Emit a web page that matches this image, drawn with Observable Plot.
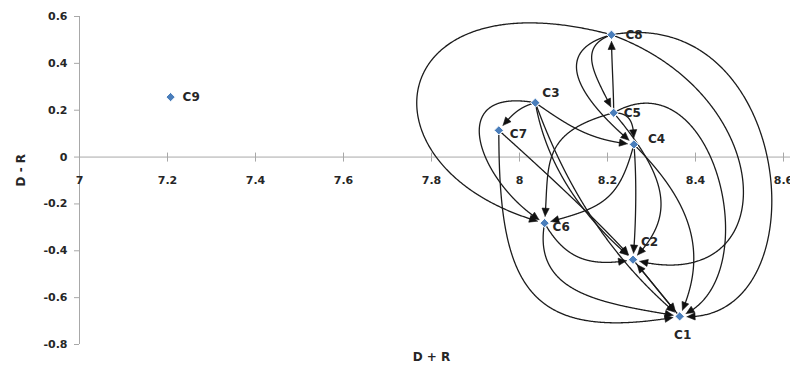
<!DOCTYPE html>
<html><head><meta charset="utf-8">
<script src="https://cdn.jsdelivr.net/npm/d3@7"></script>
<script src="https://cdn.jsdelivr.net/npm/@observablehq/plot@0.6"></script>
<style>body{margin:0;background:#fff}#chart{width:790px;height:370px}</style>
</head><body><div id="chart"></div>
<script>
// ---- data ----
const nodes   = ["C1", "C2", "C3", "C4", "C5", "C6", "C7", "C8", "C9"];
const dPlusR  = [8.364, 8.258, 8.036, 8.260, 8.214, 8.057, 7.953, 8.209, 7.207];
const dMinusR = [-0.680, -0.438, 0.232, 0.054, 0.189, -0.282, 0.114, 0.522, 0.256];
const xTicks = [7, 7.2, 7.4, 7.6, 7.8, 8, 8.2, 8.4, 8.6];
const yTicks = [0.6, 0.4, 0.2, 0, -0.2, -0.4, -0.6, -0.8];
const xTitle = "D + R";
const yTitle = "D - R";
// influence relations (from -> to)
const edgeFrom = ["C5","C8","C8","C3","C3","C8","C5","C4","C3","C5","C4","C6","C6","C7","C7","C3","C3","C2","C1","C4","C5","C5","C8","C8"];
const edgeTo   = ["C8","C5","C4","C7","C6","C6","C6","C6","C4","C4","C2","C2","C1","C1","C2","C2","C1","C1","C2","C1","C1","C2","C2","C1"];

// ---- drawing style of each curve (departure / arrival heading in screen degrees, handle length relative to chord) ----
const edgeDepart = [-90,160,165,165,190,195,165,105, 35,  0, 85, 60,100, 90, 42, 80, 70, 50,230, 45,-30, 50, 20,-10];
const edgeArrive = [-90, 65, 40,130, 30, 15, 95,165,  5, 90, 95,-10, 10,-10, 48, 40, 40, 50,230,115,160,135,195,185];
const edgeOut    = [0.3,0.5,0.6,0.4,0.8,1.2,0.6,0.5,0.4,0.5,0.3,0.45,0.45,0.6,0.3,0.35,0.35,0.3,0.3,0.45,0.55,0.6,0.8,0.65];
const edgeIn     = [0.3,0.5,0.6,0.4,0.6,1.0,0.45,0.5,0.4,0.5,0.3,0.45,0.45,0.6,0.3,0.35,0.35,0.3,0.3,0.4,0.45,0.4,0.7,0.5];
const labelAnchor = ["middle","start","start","start","start","start","start","start","start"];
const labelDx = [3, 8, 7, 14, 10, 8, 11, 14, 12];
const labelDy = [19, -18, -10, -5, 0, 4, 4, 0, 0];

const W = 790, H = 370;
const M = {top: 16, right: 7, bottom: 26, left: 79};
const xDomain = [7, 8.6], yDomain = [-0.8, 0.6];
const base = {
  width: W, height: H,
  marginTop: M.top, marginRight: M.right, marginBottom: M.bottom, marginLeft: M.left,
  x: {domain: xDomain, axis: null},
  y: {domain: yDomain, axis: null},
  style: {fontFamily: "DejaVu Sans", fontSize: "11px", background: "#fff", color: "#222"}
};

// probe plot to get the library's scales
const probe = Plot.plot({...base, marks: [Plot.frame({stroke: "none"})]});
const xs = probe.scale("x"), ys = probe.scale("y");
const dx3 = d3.scaleLinear(xDomain, [M.left, W - M.right]);
const dy3 = d3.scaleLinear(yDomain, [H - M.bottom, M.top]);
const fx = xs && xs.apply ? (v) => xs.apply(v) : dx3;
const fy = ys && ys.apply ? (v) => ys.apply(v) : dy3;
const ix = xs && xs.invert ? (v) => xs.invert(v) : dx3.invert;
const iy = ys && ys.invert ? (v) => ys.invert(v) : dy3.invert;

const nodeRows = nodes.map((name, i) => ({name, x: dPlusR[i], y: dMinusR[i]}));
const idx = Object.fromEntries(nodes.map((n, i) => [n, i]));
const dist = (p, q) => Math.hypot(p[0] - q[0], p[1] - q[1]);
function bez(P0, P1, P2, P3, t) {
  const u = 1 - t;
  const a = u*u*u, b = 3*u*u*t, c = 3*u*t*t, d = t*t*t;
  return [a*P0[0] + b*P1[0] + c*P2[0] + d*P3[0], a*P0[1] + b*P1[1] + c*P2[1] + d*P3[1]];
}
const lineRows = [], headRows = [];
const TIP = 6.5, HEAD = 8, HW = 3.6;
edgeFrom.forEach((f, k) => {
  const t = edgeTo[k];
  const S = [fx(dPlusR[idx[f]]), fy(dMinusR[idx[f]])];
  const T = [fx(dPlusR[idx[t]]), fy(dMinusR[idx[t]])];
  const L = dist(S, T);
  const a1 = edgeDepart[k] * Math.PI / 180, a2 = edgeArrive[k] * Math.PI / 180;
  const P1 = [S[0] + edgeOut[k]*L*Math.cos(a1), S[1] + edgeOut[k]*L*Math.sin(a1)];
  const P2 = [T[0] - edgeIn[k]*L*Math.cos(a2), T[1] - edgeIn[k]*L*Math.sin(a2)];
  const pts = d3.range(0, 401).map(i => bez(S, P1, P2, T, i / 400));
  const s0 = Math.max(0, pts.findIndex(p => dist(p, S) >= 4));
  let iTip = pts.length - 1; while (iTip > 0 && dist(pts[iTip], T) < TIP) iTip--;
  const tip = pts[iTip];
  let iB = iTip; while (iB > 0 && dist(pts[iB], tip) < HEAD) iB--;
  const bp = pts[iB];
  const ddx = tip[0] - bp[0], ddy = tip[1] - bp[1], dl = Math.hypot(ddx, ddy) || 1;
  const ux = ddx / dl, uy = ddy / dl;
  const bx = tip[0] - ux*HEAD, by = tip[1] - uy*HEAD;
  const id = f + ">" + t;
  pts.slice(s0, iB).forEach(p => lineRows.push({id, x: ix(p[0]), y: iy(p[1])}));
  lineRows.push({id, x: ix(bx + ux), y: iy(by + uy)});
  const tri = [tip, [bx - uy*HW, by + ux*HW], [bx + uy*HW, by - ux*HW], tip];
  tri.forEach(p => headRows.push({id, x: ix(p[0]), y: iy(p[1])}));
});

const axisColor = "#a8a8a8";
const textColor = "#262626";
const marks = [
  Plot.ruleY([0], {stroke: axisColor, strokeWidth: 1, insetRight: -7}),
  Plot.ruleX([7], {stroke: axisColor, strokeWidth: 1}),
  Plot.ruleX(xTicks, {x: d => d, y1: 0, y2: 0, insetTop: -4, insetBottom: -5, stroke: axisColor}),
  Plot.ruleY(yTicks, {y: d => d, x1: 7, x2: 7, insetLeft: -5, stroke: axisColor}),
  Plot.text(xTicks, {x: d => d, y: 0, text: d => String(d), dy: 23.5, fontWeight: "bold", fill: textColor, fontSize: 11}),
  Plot.text(yTicks, {x: 7, y: d => d, text: d => String(d), dx: -12, textAnchor: "end", fontWeight: "bold", fill: textColor, fontSize: 11}),
  Plot.text([xTitle], {frameAnchor: "bottom", text: d => d, dy: 16, fontWeight: "bold", fill: textColor, fontSize: 12}),
  Plot.text([yTitle], {frameAnchor: "left", text: d => d, dx: -58, dy: 6, rotate: -90, fontWeight: "bold", fill: textColor, fontSize: 12}),
  Plot.line(lineRows, {x: "x", y: "y", z: "id", stroke: "#1c1c1c", strokeWidth: 1.3, curve: "linear"}),
  Plot.line(headRows, {x: "x", y: "y", z: "id", fill: "#111", stroke: "#111", strokeWidth: 0.6, curve: "linear"}),
  Plot.dot(nodeRows, {x: "x", y: "y", symbol: "diamond2", r: 4.2, fill: "#4A7EBB", stroke: "white", strokeWidth: 1}),
  ...nodeRows.map((d, i) => Plot.text([d], {x: "x", y: "y", text: "name", dx: labelDx[i], dy: labelDy[i], textAnchor: labelAnchor[i], fontWeight: "bold", fill: textColor, fontSize: 12}))
];
const chart = Plot.plot({...base, marks});
document.getElementById("chart").appendChild(chart);
</script>
</body></html>
